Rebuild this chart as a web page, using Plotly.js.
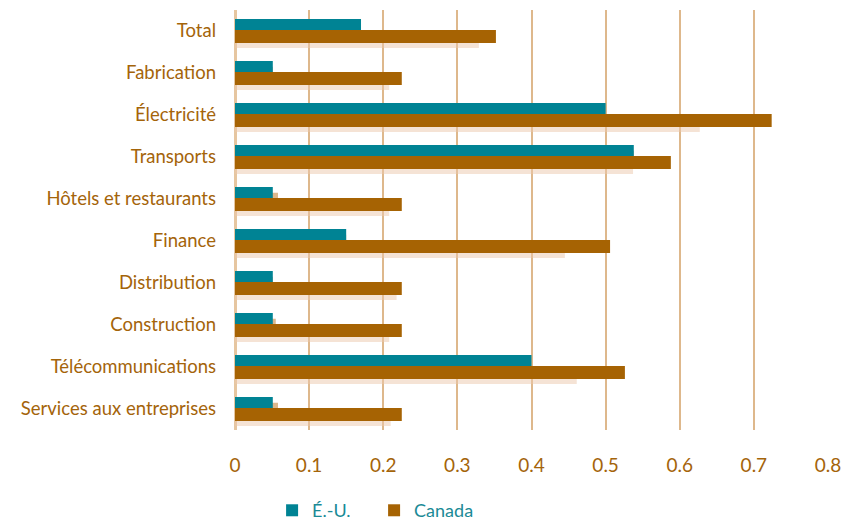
<!DOCTYPE html>
<html>
<head>
<meta charset="utf-8">
<script src="https://cdn.plot.ly/plotly-3.0.1.min.js"></script>
<style>body{margin:0;background:#fff}#chart{width:845px;height:521px}</style>
</head>
<body>
<div id="chart"></div>
<script>
var categories = ["Total", "Fabrication", "Électricité", "Transports", "Hôtels et restaurants", "Finance", "Distribution", "Construction", "Télécommunications", "Services aux entreprises"];
var usValues = [0.17, 0.051, 0.5, 0.538, 0.051, 0.15, 0.051, 0.051, 0.4, 0.051];
var caValues = [0.352, 0.225, 0.724, 0.588, 0.225, 0.506, 0.225, 0.225, 0.526, 0.225];
var usShadow = [0.17, 0.051, 0.5, 0.538, 0.058, 0.15, 0.051, 0.055, 0.4, 0.058];
var caShadow = [0.329, 0.208, 0.627, 0.537, 0.208, 0.445, 0.218, 0.208, 0.461, 0.21];
var xTicks = [0, 0.1, 0.2, 0.3, 0.4, 0.5, 0.6, 0.7, 0.8];
var xTickText = ["0", "0.1", "0.2", "0.3", "0.4", "0.5", "0.6", "0.7", "0.8"];

var TEAL = "#008394", BROWN = "#a66303", TXT = "#a4640a";

var traces = [
  {type: "bar", orientation: "h", y: categories, x: caShadow, width: 0.31, offset: 0.095,
   marker: {color: "rgba(236,200,172,0.5)", line: {width: 0}}, showlegend: false, hoverinfo: "skip"},
  {type: "bar", orientation: "h", y: categories, x: usShadow, width: 0.262, offset: -0.15,
   marker: {color: "#dcb88e", line: {width: 0}}, showlegend: false, hoverinfo: "skip"},
  {type: "bar", orientation: "h", y: categories, x: usValues, width: 0.262, offset: -0.286,
   name: "É.-U.", marker: {color: TEAL, line: {width: 0}}},
  {type: "bar", orientation: "h", y: categories, x: caValues, width: 0.31, offset: -0.024,
   name: "Canada", marker: {color: BROWN, line: {width: 0}}}
];

var layout = {
  width: 845, height: 521,
  margin: {l: 235, r: 17, t: 10, b: 91},
  paper_bgcolor: "#fff", plot_bgcolor: "#fff",
  barmode: "overlay",
  font: {family: "Lato, sans-serif", size: 18, color: TXT},
  xaxis: {range: [0, 0.8], tickvals: xTicks, ticktext: xTickText, showgrid: true,
          gridcolor: "#deb88c", gridwidth: 2, zeroline: true, zerolinecolor: "#e6c6a0", zerolinewidth: 3,
          showline: false, ticks: "", ticklabelstandoff: 22, tickfont: {size: 19, color: TXT}, fixedrange: true},
  yaxis: {type: "category", autorange: "reversed", showgrid: false, zeroline: false, showline: false,
          ticks: "", ticklabelstandoff: 18, tickfont: {size: 18.5, color: TXT}, fixedrange: true},
  showlegend: true,
  legend: {orientation: "h", xref: "container", yref: "container", x: 0.322, xanchor: "left", y: 0.02, yanchor: "middle",
           font: {size: 18, color: "#1b8a96"}, entrywidth: 57, entrywidthmode: "pixels",
           itemwidth: 30, tracegroupgap: 0, bgcolor: "rgba(0,0,0,0)"}
};

Plotly.newPlot("chart", traces, layout, {displayModeBar: false, staticPlot: true});
</script>
</body>
</html>
